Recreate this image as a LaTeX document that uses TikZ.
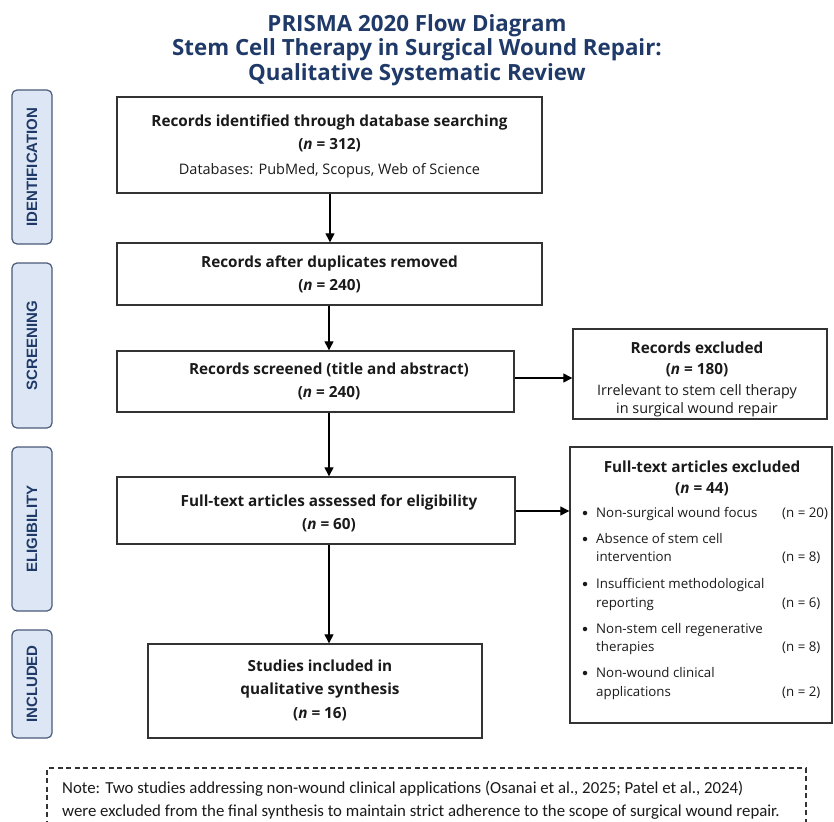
\documentclass[tikz,border=0pt]{standalone}
\usepackage{fontspec}
\setmainfont{Open Sans}
\newfontfamily\labfont{Liberation Sans}
\newfontfamily\notefont{Carlito}
\usetikzlibrary{arrows.meta}
\definecolor{navy}{HTML}{1F3A68}
\definecolor{labfill}{HTML}{DCE6F4}
\definecolor{labdraw}{HTML}{4A5A78}
\definecolor{boxdraw}{HTML}{333333}
\definecolor{txt}{HTML}{1A1A1A}
\tikzset{
  x=1pt, y=-1pt,
  box/.style={draw=boxdraw, line width=1.4pt, fill=white, inner sep=0pt},
  btxt/.style={align=center, inner sep=0pt, text=txt, font=\bfseries\fontsize{15.3}{23}\selectfont},
  phase/.style={draw=labdraw, line width=1.2pt, fill=labfill, rounded corners=5pt, rotate=90,
     minimum height=40pt, inner sep=0pt, text=navy, font=\labfont\bfseries\fontsize{15}{18}\selectfont},
  arr/.style={line width=1.3pt, -{Triangle[length=9pt,width=9pt]}},
  it/.style={font=\fontsize{13.3}{15}\selectfont, text=txt, inner sep=0pt, anchor=base west},
  bul/.style={circle, fill=txt, inner sep=0pt, minimum size=4.5pt},
  notet/.style={anchor=base west, inner sep=0pt, text=txt, font=\notefont\fontsize{16.8}{23}\selectfont},
}
\begin{document}
\begin{tikzpicture}
\useasboundingbox (0,0) rectangle (834,821);
\fill[white] (0,0) rectangle (834,821);
% title
\node[text=navy, align=center, font=\bfseries\fontsize{22.3}{24.5}\selectfont] (title) at (417,50)
  {PRISMA 2020 Flow Diagram\\Stem Cell Therapy in Surgical Wound Repair:\\Qualitative Systematic Review};
% phase labels
\node[phase, minimum width=154pt] (pid) at (32,167) {IDENTIFICATION};
\node[phase, minimum width=165pt] (psc) at (32,345.5) {SCREENING};
\node[phase, minimum width=164pt] (pel) at (32,529) {ELIGIBILITY};
\node[phase, minimum width=108pt] (pin) at (32,684) {INCLUDED};
% main boxes
\node[box, minimum width=425pt, minimum height=96pt] (b1) at (329.5,145) {};
\node[btxt] (b1t) at (329.5,146.5)
  {Records identified through database searching\\
   (\textit{n} = 312)\\[2pt]
   {\mdseries\fontsize{14.5}{23}\selectfont Databases: PubMed, Scopus, Web of Science}};
\node[box, minimum width=425pt, minimum height=62pt] (b2) at (329.5,274) {};
\node[btxt] (b2t) at (329.5,274.5) {Records after duplicates removed\\(\textit{n} = 240)};
\node[box, minimum width=397pt, minimum height=61pt] (b3) at (315.5,381.5) {};
\node[btxt] (b3t) at (329,381) {Records screened (title and abstract)\\(\textit{n} = 240)};
\node[box, minimum width=398pt, minimum height=67pt] (b4) at (316,510.5) {};
\node[btxt] (b4t) at (329,513) {Full-text articles assessed for eligibility\\(\textit{n} = 60)};
\node[box, minimum width=334pt, minimum height=94pt] (b5) at (315,691) {};
\node[btxt] (b5t) at (320,690) {Studies included in\\qualitative synthesis\\[1pt](\textit{n} = 16)};
% exclusion boxes
\node[box, minimum width=254pt, minimum height=90pt] (e1) at (700,374) {};
\node[btxt, font=\bfseries\fontsize{15.3}{21}\selectfont] (e1t) at (697,379.5)
  {Records excluded\\
   (\textit{n} = 180)\\
   {\mdseries\fontsize{14.4}{21}\selectfont Irrelevant to stem cell therapy}\\[-3pt]
   {\mdseries\fontsize{14.4}{21}\selectfont in surgical wound repair}};
\node[box, minimum width=262pt, minimum height=276pt] (e2) at (701,585) {};
\node[btxt, font=\bfseries\fontsize{15.3}{21}\selectfont] (e2h) at (702,478)
  {Full-text articles excluded\\(\textit{n} = 44)};
% bullet items
\node[bul] (i1b) at (585,513) {};
\node[it] (i1) at (596,517.5) {Non-surgical wound focus};
\node[it] (i1n) at (782,517.5) {(n = 20)};
\node[bul] (i2b) at (585,539) {};
\node[it] (i2) at (596,543.5) {Absence of stem cell};
\node[it] (i2c) at (596,561.5) {intervention};
\node[it] (i2n) at (782,561.5) {(n = 8)};
\node[bul] (i3b) at (585,584) {};
\node[it] (i3) at (596,588.5) {Insufficient methodological};
\node[it] (i3c) at (596,607.5) {reporting};
\node[it] (i3n) at (782,607.5) {(n = 6)};
\node[bul] (i4b) at (585,629) {};
\node[it] (i4) at (596,633.5) {Non-stem cell regenerative};
\node[it] (i4c) at (596,651.5) {therapies};
\node[it] (i4n) at (782,651.5) {(n = 8)};
\node[bul] (i5b) at (585,673) {};
\node[it] (i5) at (596,677.5) {Non-wound clinical};
\node[it] (i5c) at (596,696.5) {applications};
\node[it] (i5n) at (782,696.5) {(n = 2)};
% arrows
\draw[arr] (b1.south -| 330,0) -- (b2.north -| 330,0);
\draw[arr] (b2.south -| b3t) -- (b3.north -| b3t);
\draw[arr] (b3.south -| b3t) -- (b4.north -| b3t);
\draw[arr] (b4.south -| b3t) -- (b5.north -| b3t);
\draw[arr] (b3.east |- 0,378) -- (e1.west |- 0,378);
\draw[arr] (b4.east |- 0,511) -- (e2.west |- 0,511);
% note
\node[draw=boxdraw, line width=1.1pt, dash pattern=on 5pt off 3.5pt, minimum width=759pt, minimum height=70pt,
  inner sep=0pt] (note) at (426.5,803) {};
\node[notet] (note1) at (62,793)
  {Note: Two studies addressing non-wound clinical applications (Osanai et al., 2025; Patel et al., 2024)};
\node[notet] (note2) at (62,816)
  {were excluded from the final synthesis to maintain strict adherence to the scope of surgical wound repair.};
\end{tikzpicture}
\end{document}
